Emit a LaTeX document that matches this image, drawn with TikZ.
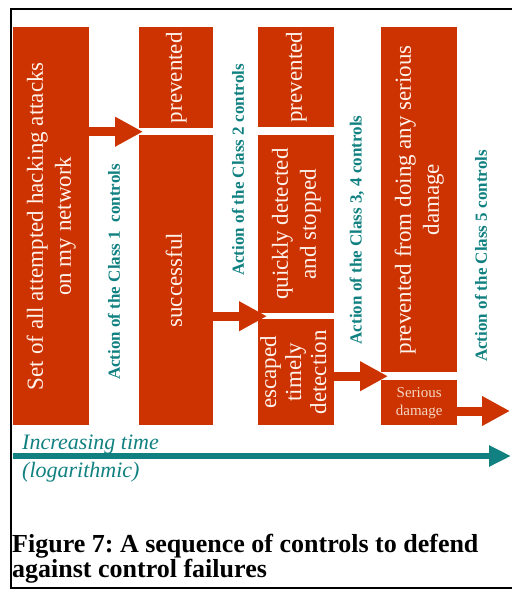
\documentclass[tikz,border=0pt]{standalone}
\usepackage{fontspec}
\setmainfont{Liberation Serif}
\usepackage{graphicx}
\usetikzlibrary{arrows.meta,positioning,calc}
\definecolor{brick}{HTML}{CC3300}
\definecolor{tealc}{HTML}{108080}
\definecolor{boxtxt}{HTML}{FFF3EC}
\definecolor{peach}{HTML}{F5D6C2}
\newcommand{\uptext}[1]{\rotatebox{90}{\begin{tabular}{@{}c@{}}#1\end{tabular}}}
\frenchspacing

\begin{document}
\begin{tikzpicture}[x=1pt, y=-1pt, every node/.style={inner sep=0pt}]
\tikzset{
  block/.style={fill=brick, anchor=north west, text=boxtxt, font=\fontsize{23}{28}\selectfont},
  ctrllabel/.style={rotate=90, text=tealc, font=\bfseries\fontsize{17}{19}\selectfont},
  flow/.style={draw=brick, line width=9pt, -{Triangle[length=28pt, width=28pt]}},
  timeline/.style={draw=tealc, line width=6pt, -{Triangle[length=22pt, width=20pt]}},
  timetext/.style={anchor=base west, text=tealc, font=\itshape\fontsize{22}{26}\selectfont},
  frameline/.style={line width=2pt}
}
\useasboundingbox (0,0) rectangle (512,590);
% frame, open on the right
\draw[frameline] (512,9) -- (11,9) -- (11,588) -- (512,588);
% columns of outcomes
\node[block, minimum width=76pt, minimum height=398pt] (sets) at (13,27) {\uptext{Set of all attempted hacking attacks\\on my network}};
\node[block, minimum width=74pt, minimum height=101pt] (prev1) at (139,27) {\uptext{prevented}};
\node[block, minimum width=74pt, minimum height=290pt] (succ) at (139,135) {\uptext{successful}};
\node[block, minimum width=76pt, minimum height=100pt] (prev2) at (258,27) {\uptext{prevented}};
\node[block, minimum width=76pt, minimum height=178pt] (quick) at (258,135) {\uptext{quickly detected\\and stopped}};
\node[block, minimum width=76pt, minimum height=106pt, font=\fontsize{23}{25}\selectfont] (escaped) at (258,319) {\uptext{escaped\\timely\\detection}};
\node[block, minimum width=76pt, minimum height=345pt] (prevdmg) at (381,27) {\uptext{prevented from doing any serious\\damage}};
\node[block, minimum width=76pt, minimum height=45pt, align=center, text=peach, font=\fontsize{15}{18}\selectfont] (serious) at (381,380) {Serious\\damage};
% control labels
\node[ctrllabel] (act1) at (114,272) {Action of the Class 1 \ controls};
\node[ctrllabel] (act2) at (238,170) {Action of the Class 2 controls};
\node[ctrllabel] (act34) at (357,230) {Action of the Class 3, 4 controls};
\node[ctrllabel] (act5) at (481,256) {Action of the Class 5 controls};
% block arrows into the gaps
\coordinate (gap1) at ($(prev1.south west)!0.5!(succ.north west)+(4,0)$);
\coordinate (gap2) at ($(quick.south west)!0.5!(escaped.north west)+(9,0)$);
\coordinate (gap3) at ($(prevdmg.south west)!0.5!(serious.north west)+(7,0)$);
\coordinate (dmgend) at (510,411);
\draw[flow] (sets.east |- gap1) -- (gap1);
\draw[flow] (succ.east |- gap2) -- (gap2);
\draw[flow] (escaped.east |- gap3) -- (gap3);
\draw[flow] (serious.east |- dmgend) -- (dmgend);
% time axis
\coordinate (tstart) at (13,456);
\coordinate (tend) at (511,456);
\draw[timeline] (tstart) -- (tend);
\node[timetext] (timelbl) at (22,449) {Increasing time};
\node[timetext] (loglbl) at (22,477) {(logarithmic)};
% caption
\node[anchor=north west, align=left, font=\bfseries\fontsize{26}{25}\selectfont] (caption) at (12,534) {Figure 7: A sequence of controls to defend\\against control failures};
\end{tikzpicture}
\end{document}
